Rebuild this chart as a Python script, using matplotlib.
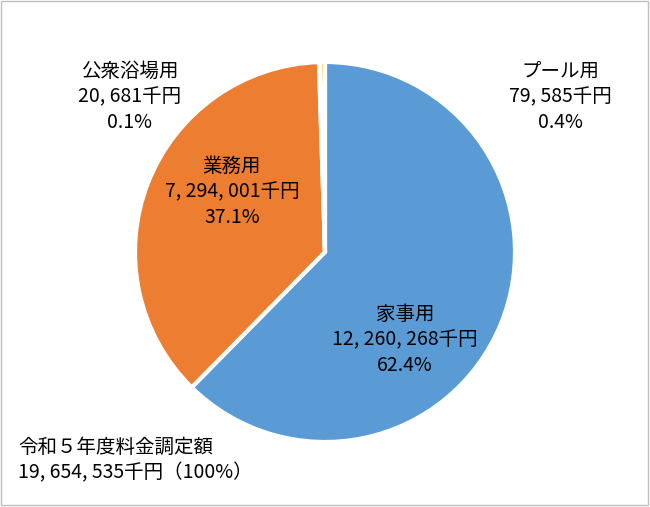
import matplotlib.pyplot as plt
from matplotlib.patches import Rectangle

plt.rcParams["font.family"] = "Noto Sans CJK JP"

names = ["家事用", "業務用", "公衆浴場用", "プール用"]
amounts = [12260268, 7294001, 20681, 79585]
shares = ["62.4%", "37.1%", "0.1%", "0.4%"]
colors = ["#5b9bd5", "#ed7d31", "#a5a5a5", "#ffc000"]

fig = plt.figure(figsize=(6.5, 5.07), dpi=100)
ax = fig.add_axes([0, 0, 1, 1])

# y axis is flipped below, so counterclock=True draws clockwise on screen
ax.pie(amounts, colors=colors, startangle=-90, counterclock=True,
       center=(325, 252), radius=190, frame=True,
       wedgeprops=dict(edgecolor="white", linewidth=3))
ax.set_xlim(0, 650)
ax.set_ylim(507, 0)
ax.set_aspect("equal")
ax.axis("off")

def fmt(v):
    return f"{v:,}".replace(",", ", ")

fs = 14
kw = dict(ha="center", va="center", fontsize=fs, linespacing=1.3, zorder=5)
ax.text(405, 340, f"{names[0]}\n{fmt(amounts[0])}千円\n{shares[0]}", **kw)
ax.text(232, 192, f"{names[1]}\n{fmt(amounts[1])}千円\n{shares[1]}", **kw)
ax.text(130, 97, f"{names[2]}\n{fmt(amounts[2])}千円\n{shares[2]}", **kw)
ax.text(560, 97, f"{names[3]}\n{fmt(amounts[3])}千円\n{shares[3]}", **kw)
ax.text(18, 460, f"令和５年度料金調定額\n{fmt(sum(amounts))}千円（100%）",
        ha="left", va="center", fontsize=fs, linespacing=1.3, zorder=5)

ax.add_patch(Rectangle((1, 1), 647, 504, fill=False, edgecolor="#bfbfbf", lw=1))
fig.savefig("out.png", dpi=100)
